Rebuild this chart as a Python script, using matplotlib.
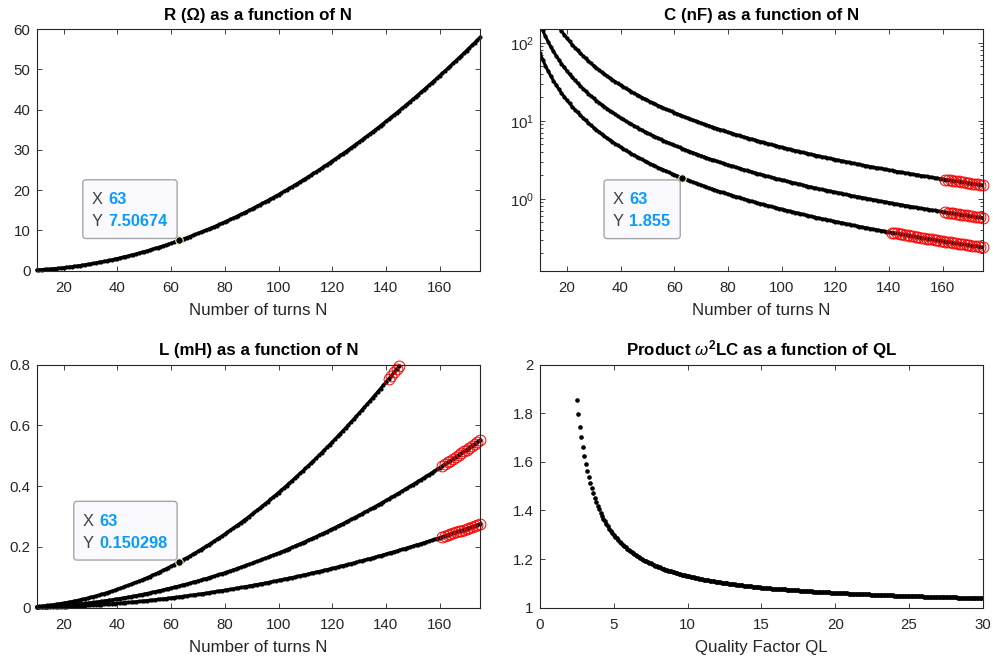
import numpy as np
import matplotlib
matplotlib.use("Agg")
import matplotlib.pyplot as plt
import matplotlib.ticker as mticker
import matplotlib.transforms as mtransforms
from matplotlib.patches import FancyBboxPatch

plt.rcParams["font.family"] = ["Liberation Sans", "DejaVu Sans"]
plt.rcParams["mathtext.fontset"] = "custom"
plt.rcParams["mathtext.rm"] = "Liberation Sans"
plt.rcParams["mathtext.it"] = "Liberation Sans:italic"
plt.rcParams["mathtext.bf"] = "Liberation Sans:bold"

# number of turns swept
N = list(range(10, 176))

# resistance in ohm, N = 10..175
R_ohm = [
    0.19, 0.23, 0.27, 0.32, 0.37, 0.43, 0.48, 0.55, 0.61, 0.68,
    0.76, 0.83, 0.92, 1.00, 1.09, 1.18, 1.28, 1.38, 1.48, 1.59,
    1.70, 1.82, 1.94, 2.06, 2.19, 2.32, 2.45, 2.59, 2.73, 2.88,
    3.03, 3.18, 3.34, 3.50, 3.66, 3.83, 4.00, 4.18, 4.36, 4.54,
    4.73, 4.92, 5.11, 5.31, 5.52, 5.72, 5.93, 6.15, 6.36, 6.58,
    6.81, 7.04, 7.27, 7.50674, 7.75, 7.99, 8.24, 8.49, 8.75, 9.00,
    9.27, 9.53, 9.81, 10.08, 10.36, 10.64, 10.92, 11.21, 11.51, 11.80,
    12.10, 12.41, 12.72, 13.03, 13.35, 13.67, 13.99, 14.32, 14.65, 14.98,
    15.32, 15.66, 16.01, 16.36, 16.71, 17.07, 17.43, 17.80, 18.17, 18.54,
    18.91, 19.29, 19.68, 20.07, 20.46, 20.85, 21.25, 21.65, 22.06, 22.47,
    22.89, 23.30, 23.73, 24.15, 24.58, 25.01, 25.45, 25.89, 26.34, 26.78,
    27.24, 27.69, 28.15, 28.62, 29.08, 29.55, 30.03, 30.51, 30.99, 31.47,
    31.96, 32.46, 32.96, 33.46, 33.96, 34.47, 34.98, 35.50, 36.02, 36.54,
    37.07, 37.60, 38.14, 38.68, 39.22, 39.77, 40.32, 40.87, 41.43, 41.99,
    42.56, 43.13, 43.70, 44.28, 44.86, 45.44, 46.03, 46.62, 47.22, 47.82,
    48.42, 49.03, 49.64, 50.25, 50.87, 51.49, 52.12, 52.75, 53.38, 54.02,
    54.66, 55.31, 55.96, 56.61, 57.26, 57.92,
]

# capacitance in nF, three designs (N = 10..175)
C_low = [
    73.6, 60.8, 51.1, 43.6, 37.6, 32.7, 28.8, 25.5, 22.7, 20.4,
    18.4, 16.7, 15.2, 13.9, 12.8, 11.8, 10.9, 10.1, 9.39, 8.75,
    8.18, 7.66, 7.19, 6.76, 6.37, 6.01, 5.68, 5.38, 5.10, 4.84,
    4.60, 4.38, 4.17, 3.98, 3.80, 3.64, 3.48, 3.33, 3.20, 3.07,
    2.94, 2.83, 2.72, 2.62, 2.52, 2.43, 2.35, 2.27, 2.19, 2.11,
    2.05, 1.98, 1.92, 1.855, 1.80, 1.74, 1.69, 1.64, 1.59, 1.55,
    1.50, 1.46, 1.42, 1.38, 1.34, 1.31, 1.27, 1.24, 1.21, 1.18,
    1.15, 1.12, 1.095, 1.069, 1.043, 1.019, 0.995, 0.973, 0.951, 0.929,
    0.909, 0.889, 0.870, 0.851, 0.833, 0.816, 0.799, 0.782, 0.767, 0.751,
    0.736, 0.722, 0.708, 0.694, 0.681, 0.668, 0.655, 0.643, 0.631, 0.620,
    0.608, 0.598, 0.587, 0.577, 0.566, 0.557, 0.547, 0.538, 0.529, 0.520,
    0.511, 0.503, 0.495, 0.487, 0.479, 0.471, 0.464, 0.456, 0.449, 0.442,
    0.436, 0.429, 0.423, 0.416, 0.410, 0.404, 0.398, 0.392, 0.387, 0.381,
    0.376, 0.370, 0.365, 0.360, 0.355, 0.350, 0.345, 0.341, 0.336, 0.332,
    0.327, 0.323, 0.319, 0.314, 0.310, 0.306, 0.303, 0.299, 0.295, 0.291,
    0.288, 0.284, 0.281, 0.277, 0.274, 0.270, 0.267, 0.264, 0.261, 0.258,
    0.255, 0.252, 0.249, 0.246, 0.243, 0.240,
]
C_mid = [
    175, 144.5, 121.4, 103.6, 89.3, 77.7, 68.4, 60.6, 53.9, 48.5,
    43.7, 39.7, 36.1, 33.0, 30.4, 28.0, 25.9, 24.0, 22.3, 20.8,
    19.4, 18.2, 17.1, 16.1, 15.1, 14.3, 13.5, 12.8, 12.1, 11.5,
    10.9, 10.4, 9.91, 9.46, 9.03, 8.65, 8.27, 7.91, 7.60, 7.29,
    6.99, 6.72, 6.46, 6.23, 5.99, 5.77, 5.58, 5.39, 5.20, 5.01,
    4.87, 4.70, 4.56, 4.41, 4.28, 4.13, 4.02, 3.90, 3.78, 3.68,
    3.56, 3.47, 3.37, 3.28, 3.18, 3.11, 3.02, 2.95, 2.87, 2.80,
    2.73, 2.66, 2.60, 2.54, 2.48, 2.42, 2.36, 2.31, 2.26, 2.21,
    2.16, 2.11, 2.07, 2.02, 1.98, 1.94, 1.90, 1.86, 1.82, 1.78,
    1.75, 1.72, 1.68, 1.65, 1.62, 1.59, 1.56, 1.53, 1.50, 1.47,
    1.44, 1.42, 1.39, 1.37, 1.34, 1.32, 1.30, 1.28, 1.26, 1.24,
    1.21, 1.20, 1.18, 1.16, 1.14, 1.12, 1.10, 1.08, 1.07, 1.05,
    1.04, 1.02, 1.005, 0.989, 0.974, 0.960, 0.946, 0.932, 0.919, 0.905,
    0.893, 0.880, 0.868, 0.856, 0.844, 0.832, 0.820, 0.809, 0.798, 0.787,
    0.777, 0.767, 0.757, 0.747, 0.738, 0.728, 0.719, 0.710, 0.701, 0.692,
    0.683, 0.675, 0.666, 0.659, 0.650, 0.643, 0.635, 0.627, 0.620, 0.613,
    0.605, 0.598, 0.591, 0.585, 0.578, 0.571,
]
C_high = [
    459, 379, 319, 272, 234, 204, 179, 158.8, 141.7, 127.1,
    114.8, 104.1, 94.8, 86.8, 79.7, 73.4, 67.9, 63.0, 58.5, 54.6,
    51.0, 47.8, 44.8, 42.1, 39.7, 37.5, 35.4, 33.5, 31.8, 30.2,
    28.7, 27.3, 26.0, 24.8, 23.7, 22.7, 21.7, 20.8, 19.9, 19.1,
    18.4, 17.6, 17.0, 16.3, 15.7, 15.2, 14.6, 14.1, 13.6, 13.2,
    12.75, 12.34, 11.94, 11.56, 11.21, 10.86, 10.54, 10.22, 9.93, 9.64,
    9.37, 9.11, 8.85, 8.61, 8.38, 8.16, 7.95, 7.74, 7.54, 7.35,
    7.17, 7.00, 6.83, 6.66, 6.51, 6.35, 6.21, 6.06, 5.93, 5.79,
    5.67, 5.54, 5.42, 5.31, 5.19, 5.09, 4.98, 4.88, 4.78, 4.68,
    4.59, 4.50, 4.41, 4.33, 4.24, 4.16, 4.09, 4.01, 3.94, 3.86,
    3.79, 3.73, 3.66, 3.59, 3.53, 3.47, 3.41, 3.35, 3.30, 3.24,
    3.19, 3.14, 3.08, 3.03, 2.99, 2.94, 2.89, 2.85, 2.80, 2.76,
    2.72, 2.67, 2.63, 2.59, 2.56, 2.52, 2.48, 2.45, 2.41, 2.38,
    2.34, 2.31, 2.28, 2.24, 2.21, 2.18, 2.15, 2.12, 2.10, 2.07,
    2.04, 2.01, 1.99, 1.96, 1.94, 1.91, 1.89, 1.86, 1.84, 1.82,
    1.79, 1.77, 1.75, 1.73, 1.71, 1.69, 1.67, 1.65, 1.63, 1.61,
    1.59, 1.57, 1.55, 1.53, 1.52, 1.50,
]

# inductance in mH; the steep one stops at N = 145 (top of the axis)
L_high = [
    0.0038, 0.0046, 0.0055, 0.0064, 0.0074, 0.0085, 0.0097, 0.0109, 0.0123, 0.0137,
    0.0151, 0.0167, 0.0183, 0.0200, 0.0218, 0.0237, 0.0256, 0.0276, 0.0297, 0.0318,
    0.0341, 0.0364, 0.0388, 0.0412, 0.0438, 0.0464, 0.0491, 0.0518, 0.0547, 0.0576,
    0.0606, 0.0637, 0.0668, 0.0700, 0.0733, 0.0767, 0.0801, 0.0836, 0.0872, 0.0909,
    0.0947, 0.0985, 0.1024, 0.1064, 0.1104, 0.1145, 0.1188, 0.1230, 0.1274, 0.1318,
    0.1363, 0.1409, 0.1456, 0.150298, 0.1551, 0.1600, 0.1649, 0.1700, 0.1751, 0.1803,
    0.1855, 0.1909, 0.1963, 0.2018, 0.2074, 0.2130, 0.2187, 0.2245, 0.2304, 0.2363,
    0.2423, 0.2484, 0.2546, 0.2609, 0.2672, 0.2736, 0.2801, 0.2866, 0.2932, 0.2999,
    0.3067, 0.3136, 0.3205, 0.3275, 0.3346, 0.3417, 0.3490, 0.3563, 0.3637, 0.3711,
    0.3787, 0.3863, 0.3940, 0.4017, 0.4096, 0.4175, 0.4255, 0.4335, 0.4417, 0.4499,
    0.4582, 0.4666, 0.4750, 0.4835, 0.4921, 0.5008, 0.5095, 0.5184, 0.5273, 0.5362,
    0.5453, 0.5544, 0.5636, 0.5729, 0.5822, 0.5917, 0.6012, 0.6108, 0.6204, 0.6301,
    0.6400, 0.6498, 0.6598, 0.6698, 0.6799, 0.6901, 0.7004, 0.7107, 0.7211, 0.7316,
    0.7422, 0.7528, 0.7635, 0.7743, 0.7852, 0.7962,
]
L_mid = [
    0.0018, 0.0022, 0.0026, 0.0030, 0.0035, 0.0041, 0.0046, 0.0052, 0.0058, 0.0065,
    0.0072, 0.0079, 0.0087, 0.0095, 0.0104, 0.0113, 0.0122, 0.0131, 0.0141, 0.0151,
    0.0162, 0.0173, 0.0184, 0.0196, 0.0208, 0.0221, 0.0233, 0.0246, 0.0260, 0.0274,
    0.0288, 0.0303, 0.0318, 0.0333, 0.0348, 0.0365, 0.0381, 0.0398, 0.0415, 0.0432,
    0.0450, 0.0468, 0.0487, 0.0506, 0.0525, 0.0545, 0.0564, 0.0585, 0.0606, 0.0627,
    0.0648, 0.0670, 0.0692, 0.0714, 0.0737, 0.0761, 0.0784, 0.0808, 0.0832, 0.0857,
    0.0882, 0.0907, 0.0933, 0.0959, 0.0986, 0.1013, 0.1040, 0.1067, 0.1095, 0.1123,
    0.1152, 0.1181, 0.1210, 0.1240, 0.1270, 0.1301, 0.1331, 0.1362, 0.1394, 0.1426,
    0.1458, 0.1491, 0.1524, 0.1557, 0.1590, 0.1625, 0.1659, 0.1694, 0.1729, 0.1764,
    0.1800, 0.1836, 0.1873, 0.1910, 0.1947, 0.1985, 0.2022, 0.2061, 0.2100, 0.2139,
    0.2178, 0.2218, 0.2258, 0.2298, 0.2339, 0.2381, 0.2422, 0.2464, 0.2506, 0.2549,
    0.2592, 0.2635, 0.2679, 0.2723, 0.2768, 0.2813, 0.2858, 0.2903, 0.2949, 0.2995,
    0.3042, 0.3089, 0.3136, 0.3184, 0.3232, 0.3281, 0.3329, 0.3378, 0.3428, 0.3478,
    0.3528, 0.3579, 0.3630, 0.3681, 0.3732, 0.3785, 0.3837, 0.3890, 0.3943, 0.3996,
    0.4050, 0.4104, 0.4159, 0.4214, 0.4269, 0.4325, 0.4380, 0.4437, 0.4494, 0.4551,
    0.4608, 0.4666, 0.4724, 0.4782, 0.4841, 0.4901, 0.4960, 0.5020, 0.5080, 0.5141,
    0.5202, 0.5263, 0.5325, 0.5387, 0.5450, 0.5513,
]
L_low = [
    0.0009, 0.0011, 0.0013, 0.0015, 0.0018, 0.0020, 0.0023, 0.0026, 0.0029, 0.0032,
    0.0036, 0.0040, 0.0044, 0.0048, 0.0052, 0.0056, 0.0061, 0.0066, 0.0071, 0.0076,
    0.0081, 0.0086, 0.0092, 0.0098, 0.0104, 0.0110, 0.0117, 0.0123, 0.0130, 0.0137,
    0.0144, 0.0151, 0.0159, 0.0166, 0.0174, 0.0182, 0.0190, 0.0199, 0.0207, 0.0216,
    0.0225, 0.0234, 0.0243, 0.0253, 0.0262, 0.0272, 0.0282, 0.0292, 0.0303, 0.0313,
    0.0324, 0.0335, 0.0346, 0.0357, 0.0369, 0.0380, 0.0392, 0.0404, 0.0416, 0.0428,
    0.0441, 0.0454, 0.0467, 0.0480, 0.0493, 0.0506, 0.0520, 0.0534, 0.0548, 0.0562,
    0.0576, 0.0590, 0.0605, 0.0620, 0.0635, 0.0650, 0.0666, 0.0681, 0.0697, 0.0713,
    0.0729, 0.0745, 0.0762, 0.0778, 0.0795, 0.0812, 0.0829, 0.0847, 0.0864, 0.0882,
    0.0900, 0.0918, 0.0936, 0.0955, 0.0973, 0.0992, 0.1011, 0.1030, 0.1050, 0.1069,
    0.1089, 0.1109, 0.1129, 0.1149, 0.1170, 0.1190, 0.1211, 0.1232, 0.1253, 0.1274,
    0.1296, 0.1318, 0.1340, 0.1362, 0.1384, 0.1406, 0.1429, 0.1452, 0.1475, 0.1498,
    0.1521, 0.1544, 0.1568, 0.1592, 0.1616, 0.1640, 0.1665, 0.1689, 0.1714, 0.1739,
    0.1764, 0.1789, 0.1815, 0.1840, 0.1866, 0.1892, 0.1918, 0.1945, 0.1971, 0.1998,
    0.2025, 0.2052, 0.2079, 0.2107, 0.2134, 0.2162, 0.2190, 0.2218, 0.2247, 0.2275,
    0.2304, 0.2333, 0.2362, 0.2391, 0.2421, 0.2450, 0.2480, 0.2510, 0.2540, 0.2570,
    0.2601, 0.2632, 0.2663, 0.2694, 0.2725, 0.2756,
]

# points flagged in red start at these N
flag_high = 141
flag_other = 161

# omega^2 LC against loaded quality factor, QL = 2.5..30 in 0.1 steps
QL = np.round(np.arange(2.5, 30.05, 0.1), 1)
w2LC = [
    1.856, 1.797, 1.745, 1.700, 1.660, 1.624, 1.592, 1.563, 1.537, 1.513,
    1.491, 1.471, 1.453, 1.436, 1.420, 1.405, 1.391, 1.378, 1.366, 1.355,
    1.344, 1.334, 1.325, 1.316, 1.308, 1.300, 1.292, 1.285, 1.278, 1.271,
    1.265, 1.259, 1.254, 1.248, 1.243, 1.238, 1.233, 1.228, 1.224, 1.220,
    1.216, 1.212, 1.208, 1.204, 1.201, 1.197, 1.194, 1.191, 1.188, 1.185,
    1.182, 1.179, 1.176, 1.173, 1.171, 1.168, 1.166, 1.164, 1.161, 1.159,
    1.157, 1.155, 1.153, 1.151, 1.149, 1.147, 1.145, 1.143, 1.142, 1.140,
    1.138, 1.136, 1.135, 1.133, 1.132, 1.130, 1.129, 1.127, 1.126, 1.125,
    1.123, 1.122, 1.121, 1.120, 1.118, 1.117, 1.116, 1.115, 1.114, 1.113,
    1.111, 1.110, 1.109, 1.108, 1.107, 1.106, 1.105, 1.104, 1.103, 1.103,
    1.102, 1.101, 1.100, 1.099, 1.098, 1.097, 1.097, 1.096, 1.095, 1.094,
    1.093, 1.093, 1.092, 1.091, 1.090, 1.090, 1.089, 1.088, 1.088, 1.087,
    1.086, 1.086, 1.085, 1.084, 1.084, 1.083, 1.083, 1.082, 1.082, 1.081,
    1.080, 1.080, 1.079, 1.079, 1.078, 1.078, 1.077, 1.077, 1.076, 1.076,
    1.075, 1.075, 1.074, 1.074, 1.073, 1.073, 1.072, 1.072, 1.071, 1.071,
    1.071, 1.070, 1.070, 1.069, 1.069, 1.068, 1.068, 1.068, 1.067, 1.067,
    1.066, 1.066, 1.066, 1.065, 1.065, 1.065, 1.064, 1.064, 1.064, 1.063,
    1.063, 1.063, 1.062, 1.062, 1.062, 1.061, 1.061, 1.061, 1.060, 1.060,
    1.060, 1.059, 1.059, 1.059, 1.058, 1.058, 1.058, 1.058, 1.057, 1.057,
    1.057, 1.056, 1.056, 1.056, 1.056, 1.055, 1.055, 1.055, 1.055, 1.054,
    1.054, 1.054, 1.054, 1.053, 1.053, 1.053, 1.053, 1.052, 1.052, 1.052,
    1.052, 1.051, 1.051, 1.051, 1.051, 1.050, 1.050, 1.050, 1.050, 1.050,
    1.049, 1.049, 1.049, 1.049, 1.049, 1.048, 1.048, 1.048, 1.048, 1.048,
    1.047, 1.047, 1.047, 1.047, 1.047, 1.046, 1.046, 1.046, 1.046, 1.046,
    1.045, 1.045, 1.045, 1.045, 1.045, 1.045, 1.044, 1.044, 1.044, 1.044,
    1.044, 1.044, 1.043, 1.043, 1.043, 1.043, 1.043, 1.043, 1.042, 1.042,
    1.042, 1.042, 1.042, 1.042, 1.042, 1.041, 1.041, 1.041, 1.041, 1.041,
    1.041, 1.041, 1.040, 1.040, 1.040, 1.040,
]

tip_N = 63

AX_COLOR = "#262626"
TICK_FS = 10.8
LABEL_FS = 12.2
TIP_FS = 11.8


def style_axes(ax):
    for sp in ax.spines.values():
        sp.set_color(AX_COLOR)
        sp.set_linewidth(0.8)
    ax.tick_params(which="both", direction="in", top=True, right=True,
                   colors=AX_COLOR, labelsize=TICK_FS, width=0.6)
    ax.tick_params(which="major", length=3.3)
    ax.tick_params(which="minor", length=2.2)
    ax.tick_params(axis="x", pad=7.3)
    ax.tick_params(axis="y", pad=4.5)


def dots(ax, x, y, clip=True, size=4.0, joined=True):
    # the dense dot runs read as one solid stroke; a thin path keeps them smooth
    if joined:
        ax.plot(x, y, "-", color="black", linewidth=2.2, clip_on=clip,
                solid_capstyle="round", solid_joinstyle="round")
    ax.plot(x, y, ".", color="black", markersize=size, linestyle="none", clip_on=clip)


def circles(ax, x, y):
    ax.plot(x, y, "o", markerfacecolor="none", markeredgecolor="red",
            markersize=7.8, markeredgewidth=0.7, linestyle="none", clip_on=False)


def datatip(fig, ax, x, y, below=False):
    ax.plot([x], [y], "o", color="black", markersize=5.4,
            markeredgecolor="#f4f2c0", markeredgewidth=0.8, zorder=5)
    fig.canvas.draw()
    mx, my = ax.transData.transform((x, y))
    ident = mtransforms.IdentityTransform()
    val = fig.text(0, 0, f"{y:g}", fontsize=TIP_FS, fontweight="bold", color="#0a9bff",
                   transform=ident, va="center", ha="left", zorder=11)
    w_val = val.get_window_extent(fig.canvas.get_renderer()).width
    width = 8.4 + 16.7 + w_val + 10
    height = 58.7
    right = mx - 2
    left = right - width
    bottom = my - 2 - height if below else my + 2
    top = bottom + height
    box = FancyBboxPatch((left, bottom), width, height,
                         boxstyle="round,pad=0,rounding_size=3",
                         facecolor="#f9f9fe", edgecolor="#a6a6a6", linewidth=1.0,
                         transform=ident, zorder=10)
    fig.add_artist(box)
    for lab, yc, txt in (("X", top - 20, f"{x:g}"), ("Y", top - 41.7, None)):
        fig.text(left + 8.4, yc, lab, fontsize=TIP_FS, color="#404040",
                 transform=ident, va="center", ha="left", zorder=11)
        if txt is not None:
            fig.text(left + 25.1, yc, txt, fontsize=TIP_FS, fontweight="bold",
                     color="#0a9bff", transform=ident, va="center", ha="left", zorder=11)
        else:
            val.set_position((left + 25.1, yc))


fig = plt.figure(figsize=(9.93, 6.6), dpi=100)
ax_R = fig.add_axes([0.0370, 0.5898, 0.4464, 0.3662])
ax_C = fig.add_axes([0.5438, 0.5898, 0.4460, 0.3662])
ax_L = fig.add_axes([0.0370, 0.0792, 0.4464, 0.3685])
ax_Q = fig.add_axes([0.5438, 0.0792, 0.4460, 0.3685])

N_arr = np.array(N)
n_ticks = [20, 40, 60, 80, 100, 120, 140, 160]
fmt_g = mticker.FuncFormatter(lambda v, p: f"{v:g}")
title_kw = dict(fontsize=LABEL_FS, fontweight="bold", pad=6.5, color="black")
label_kw = dict(fontsize=LABEL_FS, color=AX_COLOR, labelpad=6)

# R(N)
dots(ax_R, N, R_ohm, clip=False)
ax_R.set_xlim(10, 175)
ax_R.set_ylim(0, 60)
ax_R.set_xticks(n_ticks)
ax_R.set_yticks(range(0, 61, 10))
ax_R.set_title("R (\u03a9) as a function of N", **title_kw)
ax_R.set_xlabel("Number of turns N", **label_kw)
style_axes(ax_R)

# C(N), log scale
for cs in (C_high, C_mid, C_low):
    dots(ax_C, N, cs)
m_low = N_arr >= flag_high
m_oth = N_arr >= flag_other
circles(ax_C, N_arr[m_low], np.array(C_low)[m_low])
circles(ax_C, N_arr[m_oth], np.array(C_mid)[m_oth])
circles(ax_C, N_arr[m_oth], np.array(C_high)[m_oth])
ax_C.set_yscale("log")
ax_C.set_xlim(10, 175)
ax_C.set_ylim(0.12, 150)
ax_C.set_xticks(n_ticks)
ax_C.yaxis.set_major_locator(mticker.LogLocator(base=10, numticks=10))
ax_C.yaxis.set_minor_locator(mticker.LogLocator(base=10, subs=np.arange(2, 10), numticks=10))
ax_C.yaxis.set_minor_formatter(mticker.NullFormatter())
ax_C.set_title("C (nF) as a function of N", **title_kw)
ax_C.set_xlabel("Number of turns N", **label_kw)
style_axes(ax_C)

# L(N)
N_high = N[:len(L_high)]
dots(ax_L, N_high, L_high, clip=False)
dots(ax_L, N, L_mid, clip=False)
dots(ax_L, N, L_low, clip=False)
mh = np.array(N_high) >= flag_high
circles(ax_L, np.array(N_high)[mh], np.array(L_high)[mh])
circles(ax_L, N_arr[m_oth], np.array(L_mid)[m_oth])
circles(ax_L, N_arr[m_oth], np.array(L_low)[m_oth])
ax_L.set_xlim(10, 175)
ax_L.set_ylim(0, 0.8)
ax_L.set_xticks(n_ticks)
ax_L.set_yticks([0, 0.2, 0.4, 0.6, 0.8])
ax_L.yaxis.set_major_formatter(fmt_g)
ax_L.set_title("L (mH) as a function of N", **title_kw)
ax_L.set_xlabel("Number of turns N", **label_kw)
style_axes(ax_L)

# omega^2 LC (QL): separate dots, no joining path
dots(ax_Q, QL, w2LC, size=4.6, joined=False)
ax_Q.set_xlim(0, 30)
ax_Q.set_ylim(1, 2)
ax_Q.set_xticks(range(0, 31, 5))
ax_Q.set_yticks([1, 1.2, 1.4, 1.6, 1.8, 2])
ax_Q.yaxis.set_major_formatter(fmt_g)
ax_Q.set_title(r"Product $\omega^{\mathbf{2}}$LC as a function of QL", **title_kw)
ax_Q.set_xlabel("Quality Factor QL", **label_kw)
style_axes(ax_Q)

# data tips at N = 63
i = N.index(tip_N)
datatip(fig, ax_R, tip_N, R_ohm[i])
datatip(fig, ax_C, tip_N, C_low[i], below=True)
datatip(fig, ax_L, tip_N, L_high[i])

fig.savefig("out.png", dpi=100)
